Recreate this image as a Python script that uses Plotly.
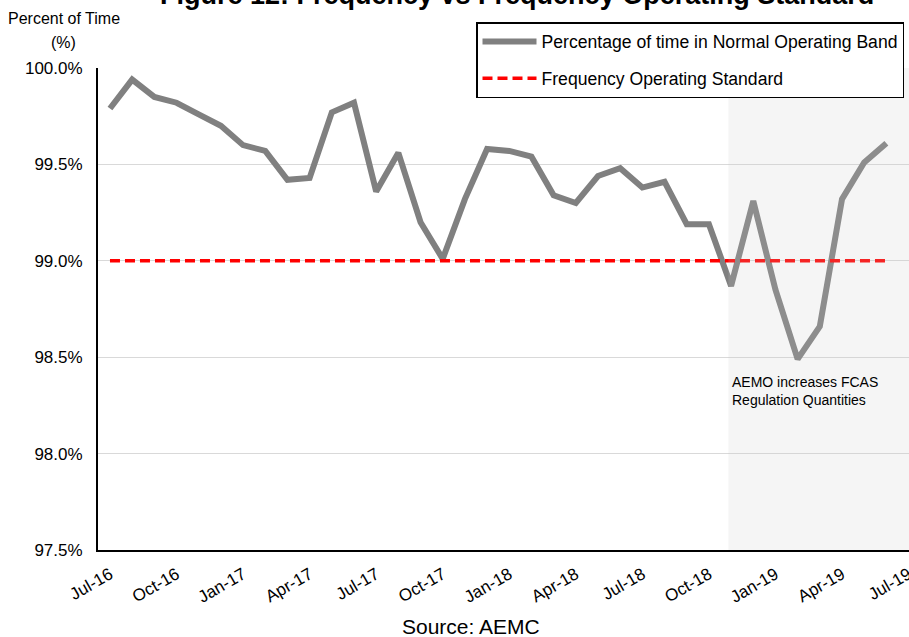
import plotly.graph_objects as go

# Monthly categories shown on the horizontal axis (Jul-19 has no reading yet)
months = [
    "Jul-16", "Aug-16", "Sep-16", "Oct-16", "Nov-16", "Dec-16",
    "Jan-17", "Feb-17", "Mar-17", "Apr-17", "May-17", "Jun-17",
    "Jul-17", "Aug-17", "Sep-17", "Oct-17", "Nov-17", "Dec-17",
    "Jan-18", "Feb-18", "Mar-18", "Apr-18", "May-18", "Jun-18",
    "Jul-18", "Aug-18", "Sep-18", "Oct-18", "Nov-18", "Dec-18",
    "Jan-19", "Feb-19", "Mar-19", "Apr-19", "May-19", "Jun-19",
    "Jul-19",
]

# Percentage of time frequency stayed in the normal operating band
normal_band = [
    99.79, 99.94, 99.85, 99.82, 99.76, 99.70,
    99.60, 99.57, 99.42, 99.43, 99.77, 99.82,
    99.36, 99.56, 99.20, 99.01, 99.32, 99.58,
    99.57, 99.54, 99.34, 99.30, 99.44, 99.48,
    99.38, 99.41, 99.19, 99.19, 98.87, 99.31,
    98.85, 98.49, 98.66, 99.32, 99.51, 99.61,
]

# Frequency operating standard (99% of time)
standard = [99.0] * len(normal_band)

tick_months = months[::3]
y_ticks = [97.5, 98.0, 98.5, 99.0, 99.5, 100.0]
y_tick_text = [f"{v:.1f}%" for v in y_ticks]

# Period after AEMO raised FCAS regulation quantities (category index)
shade_start = 27.88

FONT = "Liberation Sans, Arial, sans-serif"

fig = go.Figure()

fig.add_trace(go.Scatter(
    x=months[:len(normal_band)], y=normal_band,
    mode="lines", name="Percentage of time in Normal Operating Band",
    line=dict(color="#808080", width=6),
    legendgroup="a",
))
fig.add_trace(go.Scatter(
    x=months[:len(standard)], y=standard,
    mode="lines", name="Frequency Operating Standard",
    line=dict(color="#ff0000", width=3.5, dash="10px,5px"),
    legendgroup="b",
))

# Light shading over the later period
fig.add_shape(
    type="rect", xref="x", yref="y",
    x0=shade_start, x1=40, y0=97.5, y1=100.0,
    fillcolor="rgba(200,200,200,0.18)", line_width=0, layer="above",
)

fig.add_annotation(
    xref="x", yref="y", x=shade_start + 0.05, y=98.5,
    text="AEMO increases FCAS<br>Regulation Quantities",
    showarrow=False, xanchor="left", yanchor="top", align="left",
    yshift=-15, font=dict(family=FONT, size=14, color="#000000"),
)

# Chart title (runs off the top edge)
fig.add_annotation(
    xref="paper", yref="paper", x=(517 - 98) / 811, y=1,
    text="<b>Figure 12: Frequency vs Frequency Operating Standard</b>",
    showarrow=False, xanchor="center", yanchor="bottom", yshift=56,
    font=dict(family=FONT, size=27, color="#000000"),
)

# Axis caption
fig.add_annotation(
    xref="paper", yref="paper", x=-0.0425, y=1, text="Percent of Time",
    showarrow=False, xanchor="center", yanchor="middle", yshift=50,
    font=dict(family=FONT, size=16, color="#000000"),
)
fig.add_annotation(
    xref="paper", yref="paper", x=-0.0425, y=1, text="(%)",
    showarrow=False, xanchor="center", yanchor="middle", yshift=26,
    font=dict(family=FONT, size=16, color="#000000"),
)

# Source note
fig.add_annotation(
    xref="paper", yref="paper", x=(471 - 98) / 811, y=0, text="Source: AEMC",
    showarrow=False, xanchor="center", yanchor="middle", yshift=-76,
    font=dict(family=FONT, size=21, color="#000000"),
)

fig.update_layout(
    width=909, height=637,
    margin=dict(l=98, r=0, t=68, b=87, autoexpand=False),
    paper_bgcolor="#ffffff", plot_bgcolor="#ffffff",
    font=dict(family=FONT, size=16, color="#000000"),
    showlegend=True,
    legend=dict(
        x=(476 - 98) / 811, y=(550 - 22) / 482,
        xanchor="left", yanchor="top",
        bgcolor="#ffffff", bordercolor="#000000", borderwidth=1.5,
        font=dict(family=FONT, size=17.6, color="#000000"),
        itemwidth=54, tracegroupgap=11,
    ),
    xaxis=dict(
        type="category", categoryorder="array", categoryarray=months,
        range=[-0.54, 36.02], automargin=False,
        tickmode="array", tickvals=tick_months, ticktext=tick_months,
        tickangle=-30, showgrid=False, zeroline=False,
        showline=True, linecolor="#000000", linewidth=2,
        ticks="", ticklabelstandoff=6,
        tickfont=dict(family=FONT, size=17, color="#000000"),
    ),
    yaxis=dict(
        range=[97.5, 100.0001], automargin=False,
        tickmode="array", tickvals=y_ticks, ticktext=y_tick_text,
        showgrid=True, gridcolor="#d9d9d9", gridwidth=1,
        zeroline=False, showline=True, linecolor="#000000", linewidth=2,
        ticks="", ticklabelstandoff=10,
        tickfont=dict(family=FONT, size=17, color="#000000"),
    ),
)

fig.write_html("out.html")
